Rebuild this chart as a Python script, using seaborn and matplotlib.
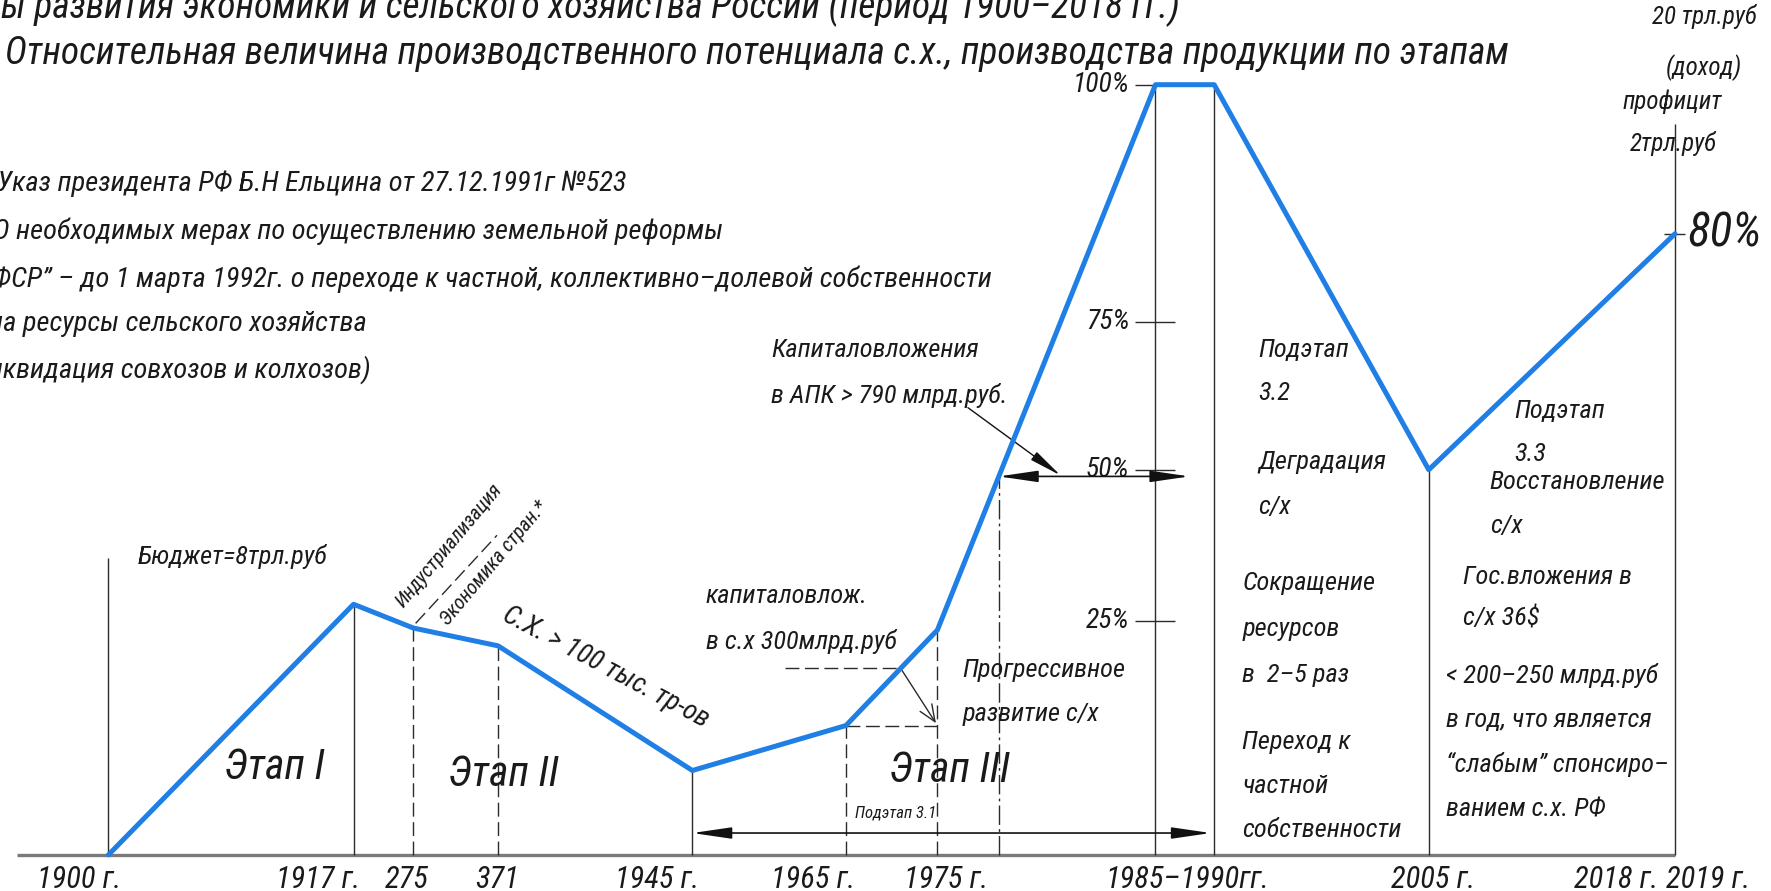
import numpy as np
import pandas as pd
import matplotlib
matplotlib.use("Agg")
import matplotlib.pyplot as plt
from matplotlib import font_manager
import seaborn as sns

# --- data: schematic time positions and relative production potential, %
stage = ["1900", "1917", "275", "371", "1945", "1965", "1975", "1985", "1990", "2005", "2019"]
stage_x = [96, 313, 366, 441, 613, 749, 830, 1023, 1075, 1265, 1483]
potential = [0, 27.7, 24.2, 22.3, 9.0, 13.8, 24.0, 100, 100, 50, 80]

x_labels = ["1900 г.", "1917 г.", "275", "371", "1945 г.", "1965 г.", "1975 г.",
            "1985–1990гг.", "2005 г.", "2018 г.", "2019 г."]
x_label_pos = [70, 282, 360, 440, 582, 720, 838, 1051, 1269, 1431, 1512]

y_ticks = [25, 50, 75, 100]
y_tick_labels = ["25%", "50%", "75%", "100%"]

df = pd.DataFrame({"stage": stage, "x": stage_x, "potential": potential})

# --- style
sns.set_style("white")
names = {f.name for f in font_manager.fontManager.ttflist}
FONT = next((n for n in ["Liberation Sans Narrow", "Roboto Condensed", "DejaVu Sans"] if n in names), "DejaVu Sans")
plt.rcParams["font.family"] = [FONT, "DejaVu Sans"]
if FONT == "DejaVu Sans":
    plt.rcParams["font.stretch"] = "condensed"

BLUE = "#1f7fe5"
INK = "#1a1a1a"
LINE = "#2b2b2b"
W, H = 1568, 789

# hand-drawn y axis: tick spacing is not even in the drawing
KV = np.array([-50, 0, 25, 50, 75, 80, 100, 150])
KP = np.array([-341, 0, 207.5, 341, 472, 550, 682, 1023])
fwd = lambda v: np.interp(v, KV, KP)
inv = lambda p: np.interp(p, KP, KV)

fig = plt.figure(figsize=(17.71, 8.91), dpi=100)
ax = fig.add_axes([0, 0, 1, 1])
ax.set_yscale("function", functions=(fwd, inv))
ax.set_xlim(0, W)
ax.set_ylim(inv(-32), inv(757))
ax.set_axis_off()


def put(xp, yp, s, size=19, **kw):
    kw.setdefault("ha", "left")
    kw.setdefault("va", "center")
    ax.text(xp / W, 1 - yp / H, s, transform=ax.transAxes, fontsize=size,
            style="italic", color=INK, **kw)


def seg(x0, y0, x1, y1, **kw):
    ax.plot([x0 / W, x1 / W], [1 - y0 / H, 1 - y1 / H], transform=ax.transAxes,
            color=LINE, lw=1.0, **kw)


dash = (0, (10, 4))
dashdot = (0, (14, 3, 2, 3))

# baseline
ax.hlines(0, 15, stage_x[-1], color="#7a7a7a", lw=2.4, zorder=1)

# vertical guides from the vertices
p = dict(zip(stage, zip(stage_x, potential)))
solid = ["1917", "1945", "1985", "1990", "2005"]
dashed = ["275", "371", "1965", "1975"]
for s in solid:
    ax.vlines(p[s][0], 0, p[s][1], color=LINE, lw=1.0, zorder=1)
for s in dashed:
    ax.vlines(p[s][0], 0, p[s][1], color=LINE, lw=1.0, linestyles=[dash], zorder=1)
ax.vlines(p["1900"][0], 0, 35.4, color=LINE, lw=1.0)
ax.vlines(p["2019"][0], 0, 94.7, color=LINE, lw=1.0)

# level where the rise crosses the 50% dimension
lvl = 48.9
x_cross = np.interp(fwd(lvl), [fwd(p["1975"][1]), fwd(p["1985"][1])], [p["1975"][0], p["1985"][0]])
ax.vlines(x_cross, 0, lvl, color=LINE, lw=1.0, linestyles=[dashdot])

# dashed helper around 1965-1975
lvl2 = 19.9
x2 = np.interp(fwd(lvl2), [fwd(p["1965"][1]), fwd(p["1975"][1])], [p["1965"][0], p["1975"][0]])
ax.hlines(lvl2, 695, x2, color=LINE, lw=1.0, linestyles=[dash])
ax.hlines(p["1965"][1], p["1965"][0], p["1975"][0], color=LINE, lw=1.0, linestyles=[dash])
ax.annotate("", xy=(p["1975"][0], p["1965"][1]), xytext=(x2, lvl2),
            arrowprops=dict(arrowstyle="->,head_length=1.2,head_width=0.5", color=LINE, lw=1.0))

# y ticks on the 1985 axis
for v, lab in zip(y_ticks, y_tick_labels):
    ax.hlines(v, 1005, 1040, color=LINE, lw=1.0)
    ax.text(1000, v, lab, ha="right", va="center", fontsize=20, style="italic", color=INK)
ax.hlines(80, 1473, 1492, color=LINE, lw=1.0)
ax.text(1494, 80, "80%", ha="left", va="center", fontsize=34, style="italic", color=INK)

# main line
sns.lineplot(data=df, x="x", y="potential", sort=False, color=BLUE, lw=3.6, ax=ax, zorder=5)
ax.set_axis_off()

# dimension arrows
head = "<|-|>,head_length=2.4,head_width=0.35"
ax.annotate("", xy=(p["1945"][0], 2.33), xytext=(p["1990"][0] - 3, 2.33),
            arrowprops=dict(arrowstyle=head, color="#111", lw=1.2, shrinkA=0, shrinkB=0))
ax.annotate("", xy=(x_cross, lvl), xytext=(p["1985"][0] + 30, lvl),
            arrowprops=dict(arrowstyle=head, color="#111", lw=1.2, shrinkA=0, shrinkB=0))
ax.annotate("", xy=(939 / W, 1 - 421 / H), xytext=(857 / W, 1 - 361 / H),
            xycoords="axes fraction", textcoords="axes fraction",
            arrowprops=dict(arrowstyle="-|>,head_length=2.0,head_width=0.3", color="#111",
                            lw=1.0, shrinkA=0, shrinkB=0))

# x labels
for lab, xp in zip(x_labels, x_label_pos):
    put(xp, 779, lab, size=22, ha="center")

# titles (top line is cut by the frame in the source)
put(1045, 6, "Этапы развития экономики и сельского хозяйства России (период 1900–2018 гг.)",
    size=27, ha="right")
put(4, 47, "Относительная величина производственного потенциала с.х., производства продукции по этапам",
    size=27)

# decree text at the left (cut by the frame in the source)
put(555, 163, "Указ президента РФ Б.Н Ельцина от 27.12.1991г №523", size=20.5, ha="right")
put(640, 205, "\"О необходимых мерах по осуществлению земельной реформы", size=20.5, ha="right")
put(878, 247, "в РСФСР” – до 1 марта 1992г. о переходе к частной, коллективно–долевой собственности",
    size=20.5, ha="right")
put(325, 287, "на ресурсы сельского хозяйства", size=20.5, ha="right")
put(328, 327, "(ликвидация совхозов и колхозов)", size=20.5, ha="right")

# right top
put(1555, 15, "20 трл.руб", size=18, ha="right")
put(1542, 60, "(доход)", size=18, ha="right")
put(1525, 90, "профицит", size=18, ha="right")
put(1520, 127, "2трл.руб", size=18, ha="right")

# stage I-II
put(122, 493, "Бюджет=8трл.руб")
put(198, 680, "Этап I", size=30)
put(397, 686, "Этап II", size=30)
put(360, 541, "Индустриализация", size=14.5, ha="left", va="bottom", rotation=50, rotation_mode="anchor")
put(399, 557, "Экономика стран.*", size=14.5, ha="left", va="bottom", rotation=50, rotation_mode="anchor")
seg(368, 552, 440, 474, linestyle=dash)
put(446, 543, "С.Х. > 100 тыс. тр-ов", size=20, rotation=-28, rotation_mode="anchor")

# stage III
put(625, 528, "капиталовлож.")
put(625, 568, "в с.х 300млрд.руб")
put(852, 593, "Прогрессивное")
put(852, 632, "развитие с/х")
put(787, 682, "Этап III", size=30)
put(757, 720, "Подэтап 3.1", size=12)
put(683, 310, "Капиталовложения")
put(683, 350, "в АПК > 790 млрд.руб.")

# sub-stage 3.2
for yp, s in [(310, "Подэтап"), (348, "3.2"), (409, "Деградация"), (449, "с/х")]:
    put(1114, yp, s)
for yp, s in [(516, "Сокращение"), (557, "ресурсов"), (598, "в  2–5 раз"),
              (657, "Переход к"), (696, "частной"), (735, "собственности")]:
    put(1100, yp, s)

# sub-stage 3.3
put(1341, 364, "Подэтап")
put(1341, 402, "3.3")
put(1319, 427, "Восстановление")
put(1319, 466, "с/х")
put(1295, 511, "Гос.вложения в")
put(1295, 548, "с/х 36$")
for yp, s in [(598, "< 200–250 млрд.руб"), (638, "в год, что является"),
              (677, "“слабым” спонсиро–"), (717, "ванием с.х. РФ")]:
    put(1280, yp, s)

fig.savefig("out.png", dpi=100)
